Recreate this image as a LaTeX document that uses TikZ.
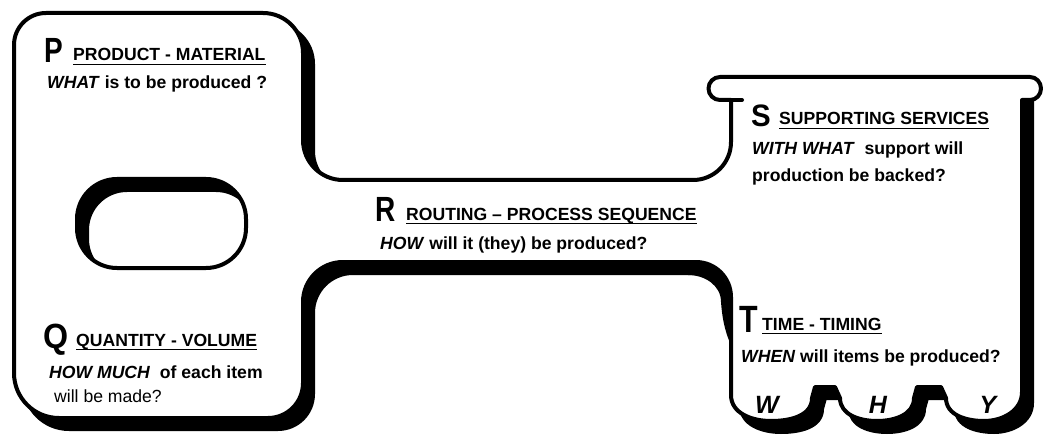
\documentclass[tikz,border=0pt]{standalone}
\usepackage{fontspec}
\setmainfont{Liberation Sans}
\usepackage{graphicx}
\begin{document}
\begin{tikzpicture}[x=1pt,y=1pt,
  outline/.style={line width=4pt, line join=round},
  txt/.style={anchor=base west, inner sep=0pt, font=\fontsize{17.6}{21}\selectfont\bfseries},
  plain/.style={anchor=base west, inner sep=0pt, font=\fontsize{17.6}{21}\selectfont},
  initial/.style={anchor=base west, inner sep=0pt, font=\fontsize{35}{35}\selectfont\bfseries},
  headrule/.style={line width=1.4pt},
  scallop/.style={anchor=base, inner sep=0pt, font=\fontsize{25}{25}\selectfont\bfseries\itshape},
  % the key body from the top of the left wall of the S/T head, round to its right wall
  keybody/.style={insert path={
    -- (731,-142) to[out=-90,in=0] (693,-180)
    -- (343,-180) to[out=180,in=-90] (303,-140)
    -- (303,-53) to[out=90,in=0] (263,-13)
    -- (46,-13) to[out=180,in=90] (14,-45)
    -- (14,-373) to[out=-90,in=180] (59,-418)
    -- (268,-418) to[out=0,in=-90] (303,-383)
    -- (303,-302) to[out=90,in=180] (343,-262)
    -- (696,-262) to[out=0,in=90] (731,-297)
    -- (731,-395) to[out=-90,in=180] (771,-421) to[out=0,in=-90] (812,-398)
    -- (815,-387) -- (835,-387) -- (840,-398)
    to[out=-90,in=180] (877,-421) to[out=0,in=-90] (914,-398)
    -- (917,-387) -- (941,-387) -- (946,-398)
    to[out=-90,in=180] (984,-421) to[out=0,in=-90] (1022,-392)}},
  % the slot in the bow of the key
  slot/.style={insert path={[rounded corners=40pt] (77,-179) rectangle (246,-268)}},
]
\useasboundingbox (0,0) rectangle (1045,-441);
\fill[white] (0,0) rectangle (1045,-441);

% heavy shadow on the lower and right edges
\filldraw[outline, even odd rule, shift={(10,-11)}]
  (731,-77) [keybody] -- (1022,-77) -- cycle [slot];

% the key itself, with the rolled lip on top of the S/T head
\filldraw[outline, fill=white, even odd rule]
  (731,-100) [keybody] -- (1022,-100)
  -- (1030,-100) to[out=0,in=-90] (1041,-88.5) to[out=90,in=0] (1030,-77)
  -- (720,-77) to[out=180,in=90] (708.5,-88.5) to[out=-90,in=180] (720,-100)
  -- cycle [slot];
\coordinate (lipL) at (731,-100);
\coordinate (lipR) at (742,-100);
\draw[outline, line cap=round] (lipL) -- (lipR);

% thickened bend where the neck drops into the T part
\fill (688,-264) to[out=0,in=90] (731,-299) -- (731,-345)
  .. controls (724,-330) and (722,-315) .. (721,-302)
  to[out=90,in=0] (688,-275) -- cycle;

% P
\node[initial] (p) at (44,-63) {\scalebox{0.8}[1]{P}};
\node[txt] (ph) at (73,-61) {PRODUCT - MATERIAL};
\node[txt] (pq) at (47,-89) {\textit{WHAT} is to be produced ?};
% Q
\node[initial] (q) at (43,-348) {\scalebox{0.92}[1]{Q}};
\node[txt] (qh) at (76,-346) {QUANTITY - VOLUME};
\node[txt] (qq1) at (49,-378) {\textit{HOW MUCH}\ \ of each item};
\node[plain] (qq2) at (54,-402) {will be made?};
% R
\node[initial] (r) at (375,-222) {\scalebox{0.8}[1]{R}};
\node[txt] (rh) at (406,-220) {ROUTING – PROCESS SEQUENCE};
\node[txt] (rq) at (380,-249) {\textit{HOW} will it (they) be produced?};
% S
\node[initial, font=\fontsize{31}{31}\selectfont\bfseries] (s) at (751,-127) {\scalebox{0.95}[1]{S}};
\node[txt] (sh) at (779,-125) {SUPPORTING SERVICES};
\node[txt] (sq1) at (752,-155) {\textit{WITH WHAT}\ \ support will};
\node[txt] (sq2) at (752,-182) {production be backed?};
% T
\node[initial, font=\fontsize{38}{38}\selectfont\bfseries] (t) at (739,-332) {\scalebox{0.8}[1]{T}};
\node[txt] (th) at (762,-330) {TIME - TIMING};
\node[txt] (tq) at (741,-362) {\textit{WHEN} will items be produced?};
% scallops
\node[scallop] (w) at (767,-413) {W};
\node[scallop] (h) at (878,-413) {H};
\node[scallop] (y) at (988,-413) {Y};

% underlined headings
\foreach \n in {ph,qh,rh,sh,th}
  \draw[headrule] ([yshift=-3.5pt]\n.base west) -- ([yshift=-3.5pt]\n.base east);
\end{tikzpicture}
\end{document}
